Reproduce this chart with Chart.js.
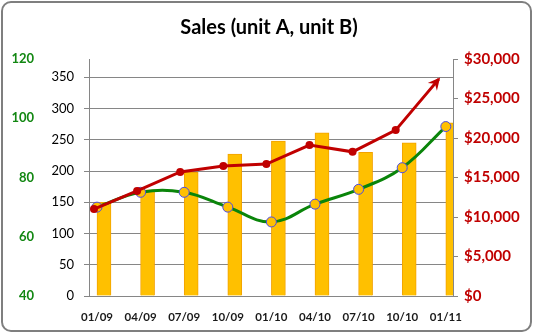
<!DOCTYPE html>
<html>
<head>
<meta charset="utf-8">
<script src="https://cdn.jsdelivr.net/npm/chart.js@4.4.0/dist/chart.umd.min.js"></script>
<style>
html, body { margin: 0; padding: 0; background: #fff; }
#wrap { position: relative; width: 533px; height: 333px; }
#frame { position: absolute; left: 1px; top: 1px; width: 531px; height: 331px; box-sizing: border-box;
         border: 2px solid #7f7f7f; border-radius: 10px; pointer-events: none; }
canvas { position: absolute; left: 0; top: 0; }
</style>
</head>
<body>
<div id="wrap"><canvas id="chart" width="533" height="333"></canvas><div id="frame"></div></div>
<script>
// Data
const periods = ['01/09', '04/09', '07/09', '10/09', '01/10', '04/10', '07/10', '10/10', '01/11'];
const unitsBars = [150, 170, 198, 227, 248, 261, 230, 245, 277];   // grey axis
const unitA = [70, 75, 75, 70, 65, 71, 76, 83.3, 97.2];            // green axis
const salesB = [11000, 13300, 15700, 16450, 16700, 19100, 18250, 21000, 27450]; // $ axis

const FONT = 'Lato, "Open Sans", sans-serif';
const GRID = '#868686';

const pts = arr => arr.map((v, i) => ({ x: i, y: v }));

// arrow head on the end of the red line
const arrowPlugin = {
    id: 'arrowHead',
    afterDatasetsDraw(chart) {
        const meta = chart.getDatasetMeta(0);
        const n = meta.data.length;
        const a = meta.data[n - 2], b = meta.data[n - 1];
        const ang = Math.atan2(b.y - a.y, b.x - a.x);
        const ctx = chart.ctx;
        ctx.save();
        ctx.translate(b.x, b.y);
        ctx.rotate(ang);
        ctx.beginPath();
        ctx.moveTo(2, 0);
        ctx.lineTo(-10, -6);
        ctx.lineTo(-6, 0);
        ctx.lineTo(-10, 6);
        ctx.closePath();
        ctx.fillStyle = '#c00000';
        ctx.fill();
        ctx.restore();
    }
};

new Chart(document.getElementById('chart'), {
    data: {
        datasets: [
            {
                type: 'line', data: pts(salesB), xAxisID: 'x2', yAxisID: 'yB', order: 0,
                borderColor: '#c00000', borderWidth: 3, tension: 0,
                pointRadius: salesB.map((v, i) => i === salesB.length - 1 ? 0 : 4),
                pointBackgroundColor: '#c00000', pointBorderColor: '#c00000', pointBorderWidth: 0
            },
            {
                type: 'line', data: pts(unitA), xAxisID: 'x', yAxisID: 'yA', order: 1,
                borderColor: '#0a850a', borderWidth: 3, tension: 0.4,
                pointRadius: 5, pointBackgroundColor: '#ffc000', pointBorderColor: '#4a4ae6', pointBorderWidth: 1
            },
            {
                type: 'bar', data: pts(unitsBars), xAxisID: 'x', yAxisID: 'yUnits', order: 2,
                backgroundColor: '#ffc000', borderColor: '#f2a200', borderWidth: 1, barThickness: 14
            }
        ]
    },
    options: {
        responsive: false,
        animation: false,
        layout: { padding: { left: 5, right: 0, top: 0, bottom: 0 } },
        plugins: {
            legend: { display: false },
            tooltip: { enabled: false },
            title: {
                display: true, text: 'Sales (unit A, unit B)', color: '#000',
                font: { family: FONT, size: 20, weight: 'bold' },
                padding: { top: 16, bottom: 19 }
            }
        },
        scales: {
            x: {
                type: 'linear', position: 'bottom', min: -0.183, max: 8.165, offset: false,
                grid: { display: false }, border: { display: false },
                ticks: {
                    stepSize: 1, includeBounds: false, autoSkip: false, maxRotation: 0, padding: 6,
                    color: '#1a1a1a', font: { family: FONT, size: 11.5, weight: 'bold' },
                    callback: v => periods[v] ?? ''
                },
                afterFit: s => { s.height = 37; }
            },
            x2: { type: 'linear', display: false, offset: false, min: -0.116, max: 8.33 },
            yA: {
                position: 'left', weight: 2, min: 40, max: 120,
                grid: { display: false }, border: { display: false },
                ticks: { stepSize: 20, padding: 10, color: '#128712', font: { family: FONT, size: 13, weight: 'bold' } },
                afterFit: s => { s.width = 47; }
            },
            yUnits: {
                position: 'left', weight: 1, min: 0, max: 379.3,
                grid: { color: GRID, tickLength: 5 }, border: { color: GRID },
                ticks: { stepSize: 50, includeBounds: false, padding: 10, color: '#000', font: { family: FONT, size: 13 } },
                afterFit: s => { s.width = 37; }
            },
            yB: {
                position: 'right', min: 0, max: 30000,
                grid: { drawOnChartArea: false, color: GRID, tickLength: 5 }, border: { color: GRID },
                ticks: {
                    stepSize: 5000, padding: 6, color: '#c00000', font: { family: FONT, size: 15, weight: 'bold' },
                    callback: v => '$' + v.toLocaleString('en-US')
                },
                afterFit: s => { s.width = 80; }
            }
        }
    },
    plugins: [arrowPlugin]
});
</script>
</body>
</html>
